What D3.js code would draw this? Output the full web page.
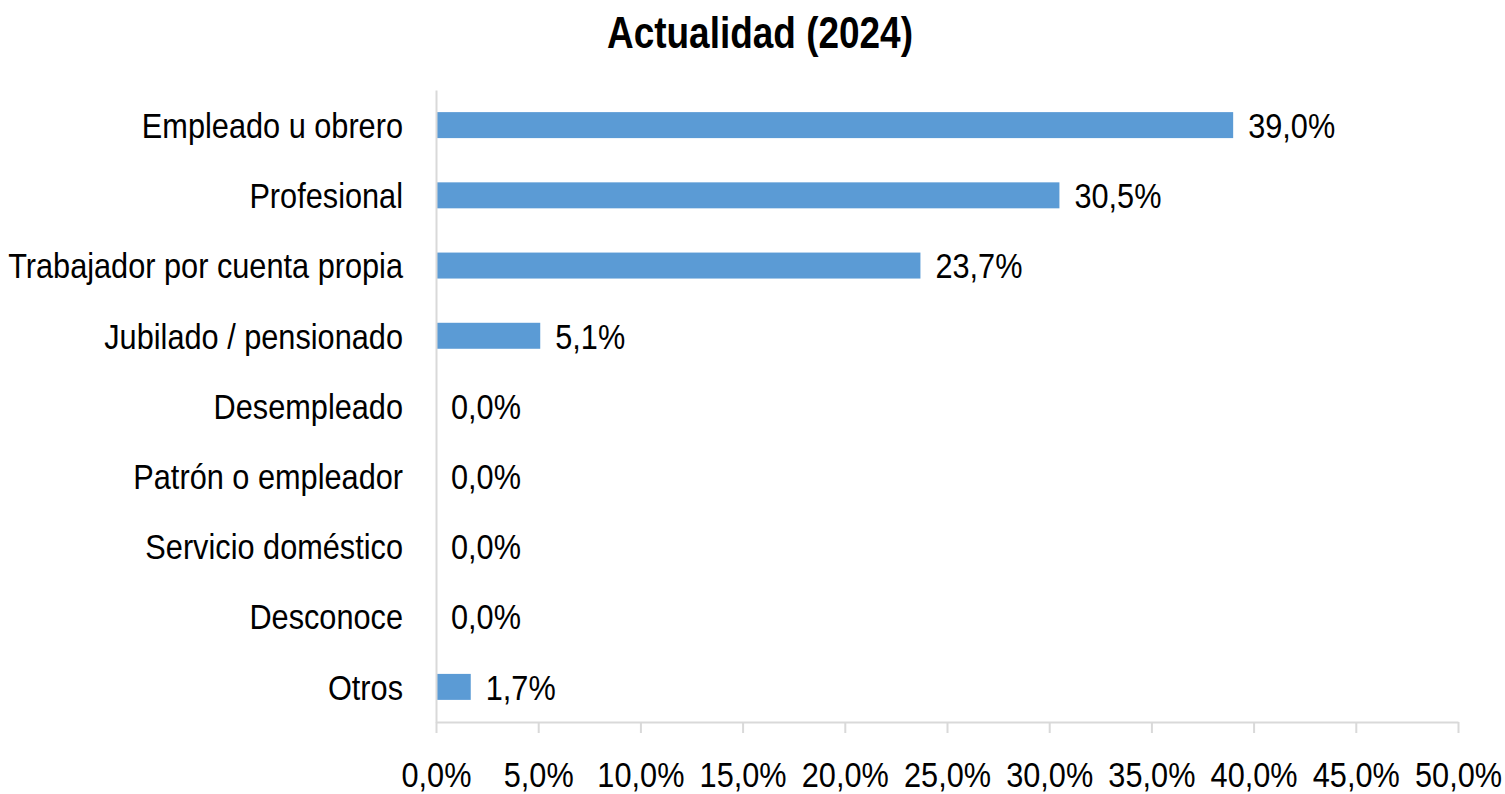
<!DOCTYPE html>
<html>
<head>
<meta charset="utf-8">
<script src="https://cdn.jsdelivr.net/npm/d3@7"></script>
<style>
  body { margin: 0; background: #fff; }
  text { font-family: "Liberation Sans", Arial, sans-serif; fill: #000; }
</style>
</head>
<body>
<div id="main_div"></div>
<script>
var categories = ["Empleado u obrero", "Profesional", "Trabajador por cuenta propia", "Jubilado / pensionado",
    "Desempleado", "Patrón o empleador", "Servicio doméstico", "Desconoce", "Otros"];
var values = [39.0, 30.5, 23.7, 5.1, 0.0, 0.0, 0.0, 0.0, 1.7];
var x_ticks = [0, 5, 10, 15, 20, 25, 30, 35, 40, 45, 50];
var title = "Actualidad (2024)";

// no Arial Narrow here, so squeeze Liberation Sans horizontally
var narrow = 0.865;
var fmt = function(v) { return v.toFixed(1).replace(".", ",") + "%"; };

function squeeze(sel, k) {
    k = k || narrow;
    sel.each(function() {
        var t = d3.select(this);
        var x = +t.attr("x") || 0;
        t.attr("x", x / k).attr("transform", "scale(" + k + ",1)");
    });
}

var x_scale = d3.scaleLinear().domain([0, 50]).range([436, 1458]);
var y_scale = d3.scaleBand().domain(categories).range([90, 722]).paddingInner(0.63).paddingOuter(0.315);

var svg = d3.select("#main_div").append("svg").attr("width", 1505).attr("height", 794);

svg.append("text")
    .attr("x", 760).attr("y", 48)
    .attr("text-anchor", "middle")
    .style("font-size", "44px").style("font-weight", "bold")
    .text(title)
    .call(squeeze, 0.84);

// bars
svg.append("g").selectAll("rect").data(values).enter().append("rect")
    .attr("x", x_scale(0))
    .attr("y", function(d, i) { return y_scale(categories[i]); })
    .attr("width", function(d) { return x_scale(d) - x_scale(0); })
    .attr("height", y_scale.bandwidth())
    .attr("fill", "#5b9bd5");

// value labels
svg.append("g").selectAll("text").data(values).enter().append("text")
    .attr("x", function(d) { return x_scale(d) + 15; })
    .attr("y", function(d, i) { return y_scale(categories[i]) + y_scale.bandwidth() / 2; })
    .attr("dy", "0.36em")
    .style("font-size", "35.5px")
    .text(function(d) { return fmt(d); })
    .call(squeeze);

// y axis
var g_y = svg.append("g").attr("transform", "translate(436,0)")
    .call(d3.axisLeft(y_scale).tickSize(0).tickPadding(33).tickSizeOuter(0));
g_y.select(".domain").attr("stroke", "#d9d9d9").attr("stroke-width", 2);
g_y.selectAll("text").style("font-size", "35.5px").attr("dy", "0.36em").attr("fill", "#000").call(squeeze);

// x axis
var g_x = svg.append("g").attr("transform", "translate(0,722)")
    .call(d3.axisBottom(x_scale).tickValues(x_ticks).tickSize(11).tickSizeOuter(0).tickPadding(29)
        .tickFormat(function(d) { return fmt(d); }));
g_x.select(".domain").attr("stroke", "#d9d9d9").attr("stroke-width", 2);
g_x.selectAll(".tick line").attr("stroke", "#d9d9d9").attr("stroke-width", 2);
g_x.selectAll("text").style("font-size", "35.5px").attr("fill", "#000").call(squeeze);
</script>
</body>
</html>
